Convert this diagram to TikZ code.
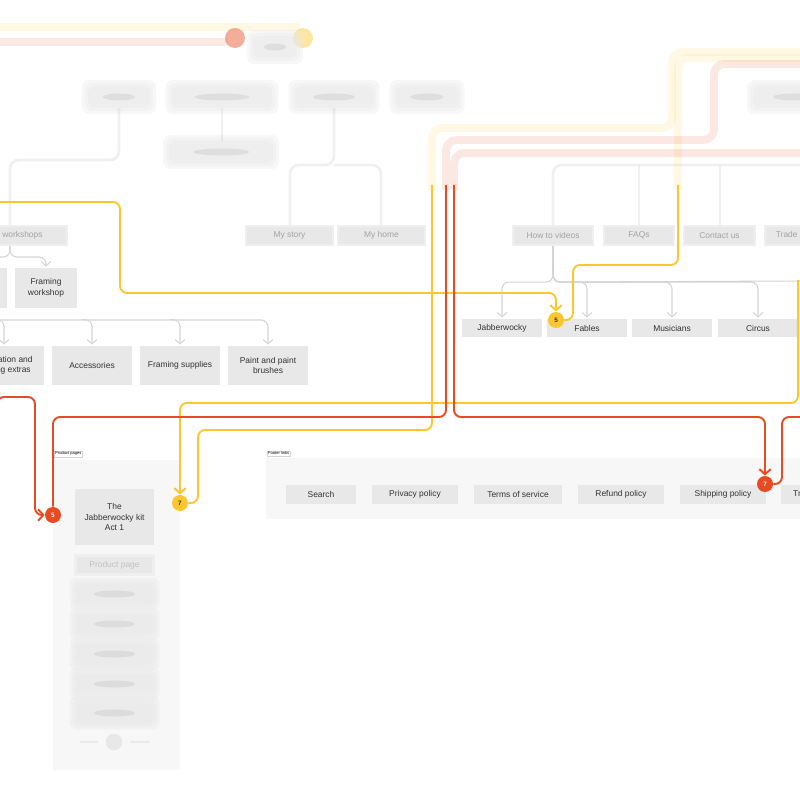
\documentclass[tikz,border=0pt]{standalone}
\usepackage{fontspec}
\setmainfont{Liberation Sans}
\usetikzlibrary{arrows.meta,calc}

\definecolor{boxgray}{HTML}{E8E8E8}
\definecolor{framegray}{HTML}{F7F7F7}
\definecolor{linegray}{HTML}{D4D4D4}
\definecolor{ink}{HTML}{333333}
\definecolor{amber}{HTML}{FCC62E}
\definecolor{tomato}{HTML}{E84A22}

\tikzset{
  page/.style={fill=boxgray, text=ink, font=\fontsize{4.8}{5.9}\selectfont, align=center,
    inner sep=0pt, minimum width=1.6cm, minimum height=0.38cm},
  soft/.style={page, text=ink!45, draw=boxgray!70, line width=1.2pt},
  tree/.style={draw=linegray, line width=0.6pt, rounded corners=4pt},
  treearr/.style={tree, -{Straight Barb[length=2.5pt,width=5.5pt]}, shorten >=0.6pt},
  ghost/.style={draw=linegray, line width=1.6pt, opacity=.35, rounded corners=5pt},
  ylink/.style={draw=amber, line width=1.1pt, rounded corners=4pt},
  rlink/.style={draw=tomato, line width=1.1pt, rounded corners=4pt},
  glow/.style={line width=4.5pt, opacity=.13, rounded corners=6pt},
  tip/.style={-{Straight Barb[length=3pt,width=6.5pt]}},
  badge/.style={circle, inner sep=0pt, minimum size=0.32cm, font=\fontsize{3.6}{4}\selectfont\bfseries},
  framelabel/.style={fill=white, draw=linegray, line width=0.2pt, inner sep=0.6pt,
    font=\fontsize{2.3}{2.6}\selectfont, anchor=south west}
}

% blurred box: centre x, centre y, width, height (px)
\newcommand{\hazebox}[4]{%
  \foreach \g in {8,5,2}{%
    \fill[boxgray, opacity=.35, rounded corners=4pt]
      ({#1-#3/2-\g},{#2-#4/2-\g}) rectangle ({#1+#3/2+\g},{#2+#4/2+\g});}
  \fill[gray!60, opacity=.25] (#1,#2) ellipse [x radius={#3*0.0056cm}, y radius=0.07cm];}

\begin{document}
\begin{tikzpicture}[x=0.02cm, y=-0.02cm]
\useasboundingbox (0,0) rectangle (800,800);
\clip (0,0) rectangle (800,800);

% frames
\fill[framegray] (53,460) rectangle (180,770);
\fill[framegray] (266,458) rectangle (800,519);
\node[framelabel] (prodlbl) at (54,457) {Product pages};
\node[framelabel] (footlbl) at (267,456) {Footer links};

% blurred top of the map
\draw[amber, glow] (0,27) -- (300,27);
\draw[tomato, glow] (0,42) -- (228,42);
\fill[tomato, opacity=.45] (235,38) circle [radius=0.2cm];
\fill[amber, opacity=.45] (303,38) circle [radius=0.2cm];
\hazebox{275}{47}{40}{18}
\hazebox{119}{97}{58}{18}
\hazebox{222}{97}{97}{18}
\hazebox{334}{97}{75}{18}
\hazebox{427}{97}{59}{18}
\hazebox{795}{97}{80}{18}
\hazebox{221}{152}{100}{18}
\draw[ghost] (119,108) -- (119,160) -- (10,160) -- (10,226);
\draw[ghost] (222,108) -- (222,142);
\draw[ghost] (334,108) -- (334,165) -| (290,226);
\draw[ghost] (334,165) -| (381,226);
\draw[ghost] (553,226) |- (800,165);
\draw[ghost] (639,165) -- (639,226);
\draw[ghost] (720,165) -- (720,226);

% level 3
\node[soft, minimum width=2.28cm] (wshop) at (10,235.5) {Paper workshops};
\node[soft, minimum width=1.74cm] (mystory) at (289.5,235.5) {My story};
\node[soft, minimum width=1.74cm] (myhome) at (381.5,235.5) {My home};
\node[soft] (howto) at (553,235.5) {How to videos};
\node[soft, minimum width=1.4cm] (faqs) at (639,235.5) {FAQs};
\node[soft, minimum width=1.42cm] (contact) at (719.5,235.5) {Contact us};
\node[soft] (trade) at (805,235.5) {Trade enquiries};

% level 4, shop side
\node[page, minimum height=0.8cm] (kits) at (-33,288) {};
\node[page, minimum width=1.24cm, minimum height=0.8cm] (framing) at (46,288) {Framing\\workshop};
\node[page, minimum height=0.78cm] (deco) at (4,365.5) {Decoration and\\framing extras};
\node[page, minimum height=0.78cm] (access) at (92,365.5) {Accessories};
\node[page, minimum height=0.78cm] (supplies) at (180,365.5) {Framing supplies};
\node[page, minimum height=0.78cm] (paint) at (268,365.5) {Paint and paint\\brushes};

\draw[treearr] (wshop.south) -- (10,257) -| (framing.north);
\draw[treearr] (wshop.south) -- (10,257) -| (kits.north);
\draw[treearr] (-10,320) -| (paint.north);
\foreach \n in {deco,access,supplies}
  \draw[treearr] ($(\n.north)+(-10,-26)$) -| (\n.north);

% level 4, videos
\node[page, minimum height=0.36cm] (jabber) at (502,328) {Jabberwocky};
\node[page, minimum height=0.36cm] (fables) at (587,328) {Fables};
\node[page, minimum height=0.36cm] (musicians) at (672,328) {Musicians};
\node[page, minimum height=0.36cm] (circus) at (758,328) {Circus};

\draw[tree] (howto.south) -- ++(0,36) -- (805,281);
\foreach \n in {jabber,fables,musicians,circus}
  \draw[treearr] (howto.south) -- ++(0,36) -| (\n.north);

% product pages
\node[page, minimum width=1.58cm, minimum height=1.12cm] (kit) at (114.5,517) {The\\Jabberwocky kit\\Act 1};
\node[soft, minimum width=1.56cm, text=ink!30] (prodpage) at (114.5,565) {Product page};
\foreach \y in {594,624,654,684,713}
  \hazebox{114.5}{\y}{74}{17}
\fill[boxgray, opacity=.6] (114,742) circle [radius=0.16cm];
\draw[ghost] (80,742) -- (98,742);
\draw[ghost] (130,742) -- (150,742);

% footer links
\node[page, minimum width=1.4cm] (search) at (321,494.5) {Search};
\node[page, minimum width=1.72cm] (privacy) at (415,494.5) {Privacy policy};
\node[page, minimum width=1.76cm] (terms) at (518,494.5) {Terms of service};
\node[page, minimum width=1.72cm] (refund) at (621,494.5) {Refund policy};
\node[page, minimum width=1.72cm] (shipping) at (723,494.5) {Shipping policy};
\node[page, minimum width=1.72cm] (track) at (824,494.5) {Track your order};

% badges
\node[badge, fill=amber, text=ink] (y5) at (556,320) {5};
\node[badge, fill=amber, text=ink] (y7) at (180,503) {7};
\node[badge, fill=tomato, text=white] (r5) at (53,515) {5};
\node[badge, fill=tomato, text=white] (r7) at (765,484) {7};

% yellow links
\draw[ylink, tip] (0,202) -- (120,202) -- (120,293) -- (556,293) -- (y5.north);
\draw[ylink] (y5.east) -- (573,320) -- (573,265) -- (678,265) -- (678,185);
\draw[amber, glow] (678,190) -- (678,58) -- (805,58);
\draw[ylink, tip] (798,280) -- (798,403) -- (180,403) -- (y7.north);
\draw[ylink] (y7.east) -- (198,503) -- (198,430) -- (432,430) -- (432,185);
\draw[amber, glow] (432,190) -- (432,128) -- (672,128) -- (672,52) -- (805,52);

% red links
\draw[rlink, tip] (-3,460) -- (-3,397) -- (35,397) -- (35,515) -- (r5.west);
\draw[rlink] (r5.north) -- (53,417) -- (446,417) -- (446,185);
\draw[tomato, glow] (446,190) -- (446,140) -- (714,140) -- (714,64) -- (805,64);
\draw[tomato, glow] (805,153) -- (454,153) -- (454,190);
\draw[rlink, tip] (454,185) -- (454,417) -- (765,417) -- (r7.north);
\draw[rlink] (r7.east) -- (782,484) -- (782,417) -- (805,417);
\end{tikzpicture}
\end{document}
